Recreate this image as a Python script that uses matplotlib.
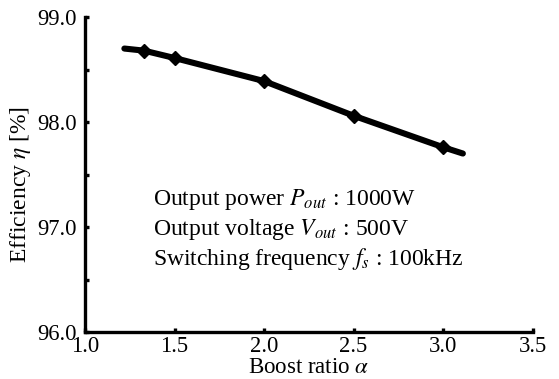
import matplotlib.pyplot as plt
from matplotlib.ticker import MultipleLocator

plt.rcParams['font.family'] = ['Liberation Serif', 'DejaVu Serif']
plt.rcParams['mathtext.fontset'] = 'stix'

# measured points (boost ratio vs efficiency)
ratio = [1.33, 1.5, 2.0, 2.5, 3.0]
eff = [98.68, 98.61, 98.39, 98.06, 97.76]
# curve extends a bit past the measured points
curve_x = [1.22, 1.33, 1.5, 2.0, 2.5, 3.0, 3.11]
curve_y = [98.70, 98.68, 98.61, 98.39, 98.06, 97.76, 97.70]

notes = [r'Output power $P_{out}$ : 1000W',
         r'Output voltage $V_{out}$ : 500V',
         r'Switching frequency $f_s$ : 100kHz']

fig = plt.figure(figsize=(5.59, 3.79), dpi=100)
ax = fig.add_axes([0.152, 0.124, 0.801, 0.831])

ax.plot(curve_x, curve_y, color='black', lw=4.4, solid_capstyle='round')
ax.plot(ratio, eff, 'D', color='black', ms=7.5)

ax.set_xlim(1.0, 3.5)
ax.set_ylim(96.0, 99.0)
ax.xaxis.set_major_locator(MultipleLocator(0.5))
ax.yaxis.set_major_locator(MultipleLocator(1.0))
ax.yaxis.set_minor_locator(MultipleLocator(0.5))
ax.xaxis.set_major_formatter('{x:.1f}')
ax.yaxis.set_major_formatter('{x:.1f}')

for s in ['top', 'right']:
    ax.spines[s].set_visible(False)
for s in ['left', 'bottom']:
    ax.spines[s].set_linewidth(2.4)
ax.tick_params(which='both', direction='in', length=3, width=2.4,
               labelsize=16.3)
ax.tick_params(axis='x', pad=3)
ax.tick_params(axis='y', pad=6)

ax.set_xlabel(r'Boost ratio $\alpha$', fontsize=16.5, labelpad=0)
ax.set_ylabel(r'Efficiency $\eta$ [%]', fontsize=17, labelpad=2)
ax.yaxis.set_label_coords(-0.115, 0.47)

for i, t in enumerate(notes):
    fig.text(153 / 559, 1 - (205 + 30 * i) / 379, t, fontsize=17,
             ha='left', va='baseline')

fig.savefig('out.png', dpi=100)
